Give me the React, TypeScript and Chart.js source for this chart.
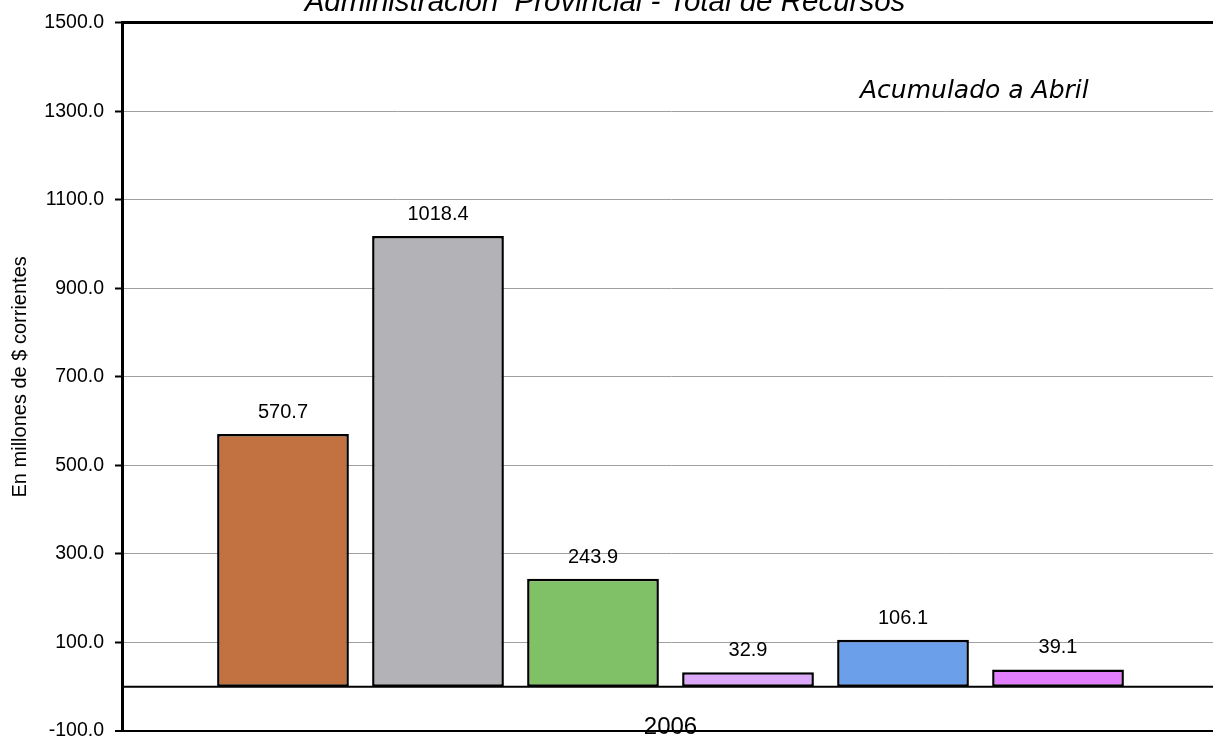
import React, { useEffect, useRef } from "react";
import { Chart, registerables } from "chart.js";

Chart.register(...registerables);

const titleText = "Administración  Provincial - Total de Recursos";
const noteText = "Acumulado a Abril";
const yAxisTitle = "En millones de $ corrientes";
const categories = ["2006"];
const seriesNames = ["Serie 1", "Serie 2", "Serie 3", "Serie 4", "Serie 5", "Serie 6"];
const seriesValues = [570.7, 1018.4, 243.9, 32.9, 106.1, 39.1];
const seriesColors = ["#C17240", "#B3B2B7", "#80C066", "#DBA8FA", "#6B9FE9", "#E37FFC"];
const yTickValues = [-100, 100, 300, 500, 700, 900, 1100, 1300, 1500];

const FONT = "'Liberation Sans', Arial, sans-serif";

export default function App() {
  const ref = useRef<HTMLCanvasElement | null>(null);

  useEffect(() => {
    document.body.style.margin = "0";
    document.body.style.overflow = "hidden";
    const canvas = ref.current;
    if (!canvas) return;

    const decorations = {
      id: "decorations",
      afterDatasetsDraw(chart: any) {
        const ctx = chart.ctx;
        const area = chart.chartArea;
        const y = chart.scales.y;
        const x = chart.scales.x;
        // zero line
        const y0 = y.getPixelForValue(0);
        ctx.save();
        ctx.strokeStyle = "#000";
        ctx.lineWidth = 2;
        ctx.beginPath();
        ctx.moveTo(area.left, y0);
        ctx.lineTo(area.right, y0);
        ctx.stroke();
        // value labels
        ctx.fillStyle = "#000";
        ctx.font = `20px ${FONT}`;
        ctx.textAlign = "center";
        ctx.textBaseline = "alphabetic";
        chart.data.datasets.forEach((ds: any, i: number) => {
          const meta = chart.getDatasetMeta(i);
          meta.data.forEach((bar: any, j: number) => {
            const v = ds.data[j];
            ctx.fillText(v.toFixed(1), bar.x, bar.y - 16);
          });
        });
        // category label
        ctx.font = `24px ${FONT}`;
        chart.data.labels.forEach((lab: string, i: number) => {
          ctx.fillText(lab, x.getPixelForValue(i), area.bottom + 3);
        });
        // title
        ctx.font = `italic 29.5px ${FONT}`;
        ctx.textAlign = "center";
        ctx.fillText(titleText, 605, 11);
        // note
        ctx.font = "italic 25px 'DejaVu Sans', sans-serif";
        ctx.textAlign = "left";
        ctx.fillText(noteText, 860, 98);
        ctx.restore();
      },
    };

    const chart = new Chart(canvas, {
      type: "bar",
      data: {
        labels: categories,
        datasets: seriesValues.map((v, i) => ({
          label: seriesNames[i],
          data: [v],
          backgroundColor: seriesColors[i],
          borderColor: "#000",
          borderWidth: 2.5,
          borderSkipped: false,
          categoryPercentage: 0.8478,
          barPercentage: 0.85,
        })),
      },
      options: {
        animation: false,
        responsive: false,
        devicePixelRatio: 1,
        layout: { padding: { top: 20, right: 0, bottom: 22, left: 0 } },
        plugins: {
          legend: { display: false },
          tooltip: { enabled: false },
          title: { display: false },
        },
        scales: {
          x: {
            grid: { display: false, drawTicks: false },
            border: { display: true, color: "#000", width: 2 },
            ticks: { display: false },
            afterFit(scale: any) {
              scale.height = 7;
            },
          },
          y: {
            min: -100,
            max: 1500,
            afterBuildTicks(scale: any) {
              scale.ticks = yTickValues.map((v) => ({ value: v }));
            },
            afterFit(scale: any) {
              scale.width = 122;
            },
            grid: {
              color: (c: any) =>
                c.tick && (c.tick.value === 1500 || c.tick.value === -100) ? "#000" : "#A0A0A0",
              lineWidth: (c: any) =>
                c.tick && c.tick.value === 1500 ? 3 : c.tick && c.tick.value === -100 ? 2 : 1,
              tickColor: "#000",
              tickLength: 7,
              tickWidth: 2,
            },
            border: { display: true, color: "#000", width: 3 },
            ticks: {
              color: "#000",
              font: { family: FONT, size: 19.5 },
              padding: 11,
              callback: (v: any) => Number(v).toFixed(1),
            },
            title: {
              display: true,
              text: yAxisTitle,
              color: "#000",
              font: { family: FONT, size: 20 },
              padding: { top: 8, bottom: 0 },
            },
          },
        },
      },
      plugins: [decorations],
    });

    return () => chart.destroy();
  }, []);

  return (
    <div style={{ width: 1213, height: 738, overflow: "hidden", position: "relative" }}>
      <canvas ref={ref} width={1219} height={760} style={{ display: "block" }} />
    </div>
  );
}
